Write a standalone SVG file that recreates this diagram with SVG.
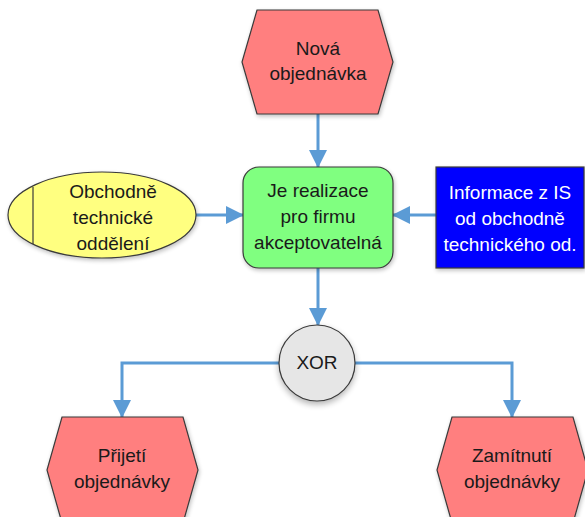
<svg xmlns="http://www.w3.org/2000/svg" width="585" height="517" viewBox="0 0 585 517">
  <style>
    .event { fill: #FF7F7F; stroke: #3A3A3A; stroke-width: 1.2; }
    .func { fill: #80FF80; stroke: #3A3A3A; stroke-width: 1.2; }
    .org { fill: #FFFF80; stroke: #3A3A3A; stroke-width: 1.2; }
    .info { fill: #0000FF; stroke: #3A3A3A; stroke-width: 1.2; }
    .gate { fill: #E6E6E6; stroke: #3A3A3A; stroke-width: 1.2; }
    .lbl { font-family: "Liberation Sans", Arial, sans-serif; font-size: 19px; text-anchor: middle; fill: #1A1A1A; }
    .lbl.white { fill: #FFFFFF; }
    .conn { fill: none; stroke: #5B9BD5; stroke-width: 3; }
  </style>
  <defs>
    <marker id="arrow" markerUnits="userSpaceOnUse" markerWidth="18" markerHeight="18" viewBox="0 0 18 18" refX="17" refY="9" orient="auto">
      <path d="M0,0 L18,9 L0,18 Z" fill="#5B9BD5"/>
    </marker>
    <filter id="shadow" x="-20%" y="-20%" width="140%" height="140%">
      <feGaussianBlur in="SourceAlpha" stdDeviation="2"/>
      <feOffset dx="1" dy="2" result="b"/>
      <feComponentTransfer><feFuncA type="linear" slope="0.25"/></feComponentTransfer>
      <feMerge><feMergeNode/><feMergeNode in="SourceGraphic"/></feMerge>
    </filter>
    <filter id="glow" x="-30%" y="-30%" width="160%" height="160%">
      <feGaussianBlur in="SourceAlpha" stdDeviation="3"/>
      <feOffset dx="0" dy="3"/>
      <feComponentTransfer><feFuncA type="linear" slope="0.3"/></feComponentTransfer>
      <feMerge><feMergeNode/><feMergeNode in="SourceGraphic"/></feMerge>
    </filter>
  </defs>

  <g id="connectors">
    <line class="conn" x1="318" y1="114" x2="318" y2="167" marker-end="url(#arrow)"/>
    <line class="conn" x1="196" y1="215" x2="243" y2="215" marker-end="url(#arrow)"/>
    <line class="conn" x1="436" y1="215" x2="393" y2="215" marker-end="url(#arrow)"/>
    <line class="conn" x1="318" y1="268" x2="318" y2="325" marker-end="url(#arrow)"/>
    <polyline class="conn" points="279,363 122,363 122,417" marker-end="url(#arrow)"/>
    <polyline class="conn" points="355,363 512,363 512,417" marker-end="url(#arrow)"/>
  </g>

  <g id="nova-objednavka">
    <polygon class="event" points="257,10 378,10 393,62 378,114 257,114 242,62" filter="url(#shadow)"/>
    <text class="lbl" x="318" y="55">Nová</text>
    <text class="lbl" x="318" y="80">objednávka</text>
  </g>

  <g id="realizace">
    <rect class="func" x="243" y="167" width="150" height="101" rx="16" ry="16" filter="url(#shadow)"/>
    <text class="lbl" x="318" y="197">Je realizace</text>
    <text class="lbl" x="318" y="223">pro firmu</text>
    <text class="lbl" x="318" y="249">akceptovatelná</text>
  </g>

  <g id="obchodne-technicke">
    <ellipse class="org" cx="102" cy="215" rx="94" ry="43" filter="url(#shadow)"/>
    <line x1="33" y1="187" x2="33" y2="244" stroke="#3A3A3A" stroke-width="1.2"/>
    <text class="lbl" x="113" y="198">Obchodně</text>
    <text class="lbl" x="113" y="224">technické</text>
    <text class="lbl" x="113" y="250">oddělení</text>
  </g>

  <g id="informace-is">
    <rect class="info" x="436" y="167" width="148" height="101" filter="url(#shadow)"/>
    <text class="lbl white" x="510" y="199">Informace z IS</text>
    <text class="lbl white" x="510" y="225">od obchodně</text>
    <text class="lbl white" x="510" y="251">technického od.</text>
  </g>

  <g id="xor">
    <circle class="gate" cx="317" cy="363" r="38" filter="url(#glow)"/>
    <text class="lbl" x="317" y="369">XOR</text>
  </g>

  <g id="prijeti-objednavky">
    <polygon class="event" points="62,417 183,417 198,470 183,523 62,523 47,470" filter="url(#shadow)"/>
    <text class="lbl" x="122" y="462">Přijetí</text>
    <text class="lbl" x="122" y="488">objednávky</text>
  </g>

  <g id="zamitnuti-objednavky">
    <polygon class="event" points="452,417 573,417 588,470 573,523 452,523 437,470" filter="url(#shadow)"/>
    <text class="lbl" x="512" y="462">Zamítnutí</text>
    <text class="lbl" x="512" y="488">objednávky</text>
  </g>
</svg>
